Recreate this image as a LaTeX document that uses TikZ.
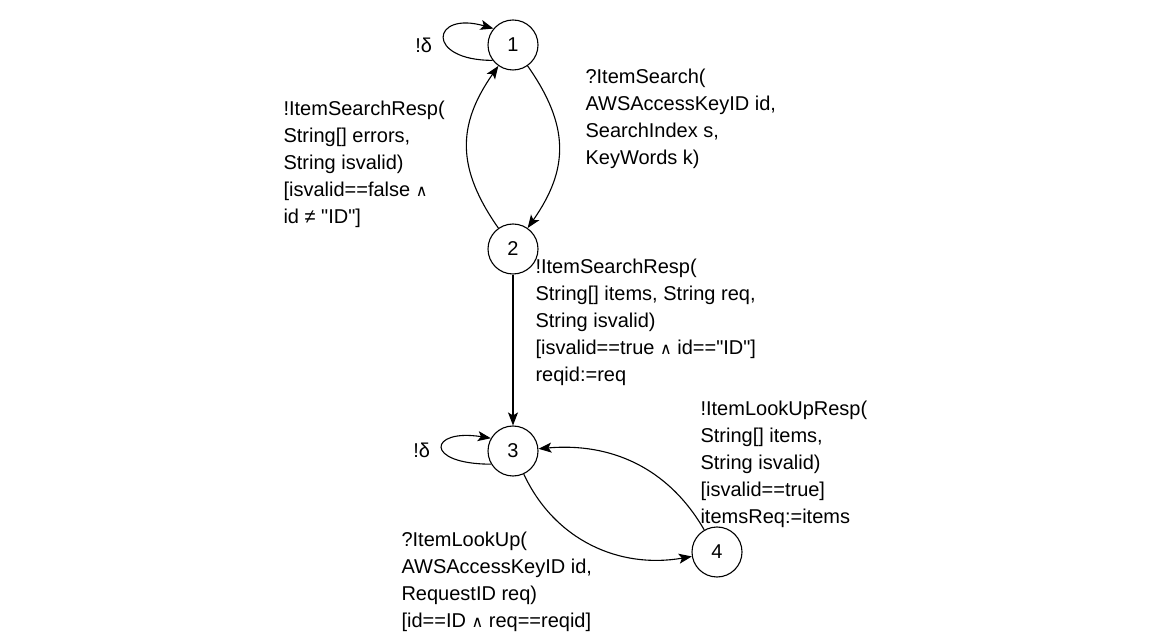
\documentclass[tikz,border=0pt]{standalone}
\usepackage{fontspec}
\setmainfont{Liberation Sans}
\newfontfamily\symfont[Scale=0.8]{DejaVu Sans}
\usetikzlibrary{arrows.meta}

\begin{document}
\begin{tikzpicture}[x = 1pt, y = 1pt, line width = 1.1pt,
                    state/.style = {circle, draw, minimum size = 50pt, inner sep = 0pt},
                    lbl/.style = {anchor = north west, align = left, inner sep = 0pt},
                    arr/.style = {-{Stealth[length = 13pt, width = 10pt, inset = 3pt]}},
                    font = \fontsize{20}{27}\selectfont]

\useasboundingbox (0,0) rectangle (1151,632);

% states
\node [state] (S1) at (513,587) {1};
\node [state] (S2) at (513,383) {2};
\node [state] (S3) at (513,181) {3};
\node [state] (S4) at (717,80) {4};

% self loops
\node [anchor = east] (D1) at (436,587) {!δ};
\node [anchor = east] (D3) at (434,182) {!δ};
\draw [arr] (S1.217) .. controls +(-68,0) and +(-62,18) .. (S1.140);
\draw [arr] (S3.211) .. controls +(-68,0) and +(-62,10) .. (S3.150);

% transitions
\draw [arr] (S1) to[out = -55, in = 55, looseness = 1.15] (S2);
\draw [arr] (S2) to[out = 125, in = -125, looseness = 1.15] (S1);
\draw [arr] (S2) -- (S3);
\draw [arr] (S3) to[out = -65, in = 190] (S4);
\draw [arr] (S4) to[out = 120, in = 5] (S3);

% labels
\node [lbl] (L12) at (585,564) {?ItemSearch(\\ AWSAccessKeyID id,\\ SearchIndex s,\\ KeyWords k)};
\node [lbl] (L21) at (283,532) {!ItemSearchResp(\\ String[] errors,\\ String isvalid)\\{}[isvalid==false {\symfont ∧}\\ id ≠ \textquotedbl ID\textquotedbl]};
\node [lbl] (L23) at (535,374) {!ItemSearchResp(\\ String[] items, String req,\\ String isvalid)\\{}[isvalid==true {\symfont ∧} id==\textquotedbl ID\textquotedbl]\\ reqid:=req};
\node [lbl] (L43) at (700,232) {!ItemLookUpResp(\\ String[] items,\\ String isvalid)\\{}[isvalid==true]\\ itemsReq:=items};
\node [lbl] (L34) at (401,101) {?ItemLookUp(\\ AWSAccessKeyID id,\\ RequestID req)\\{}[id==ID {\symfont ∧} req==reqid]};
\end{tikzpicture}
\end{document}
